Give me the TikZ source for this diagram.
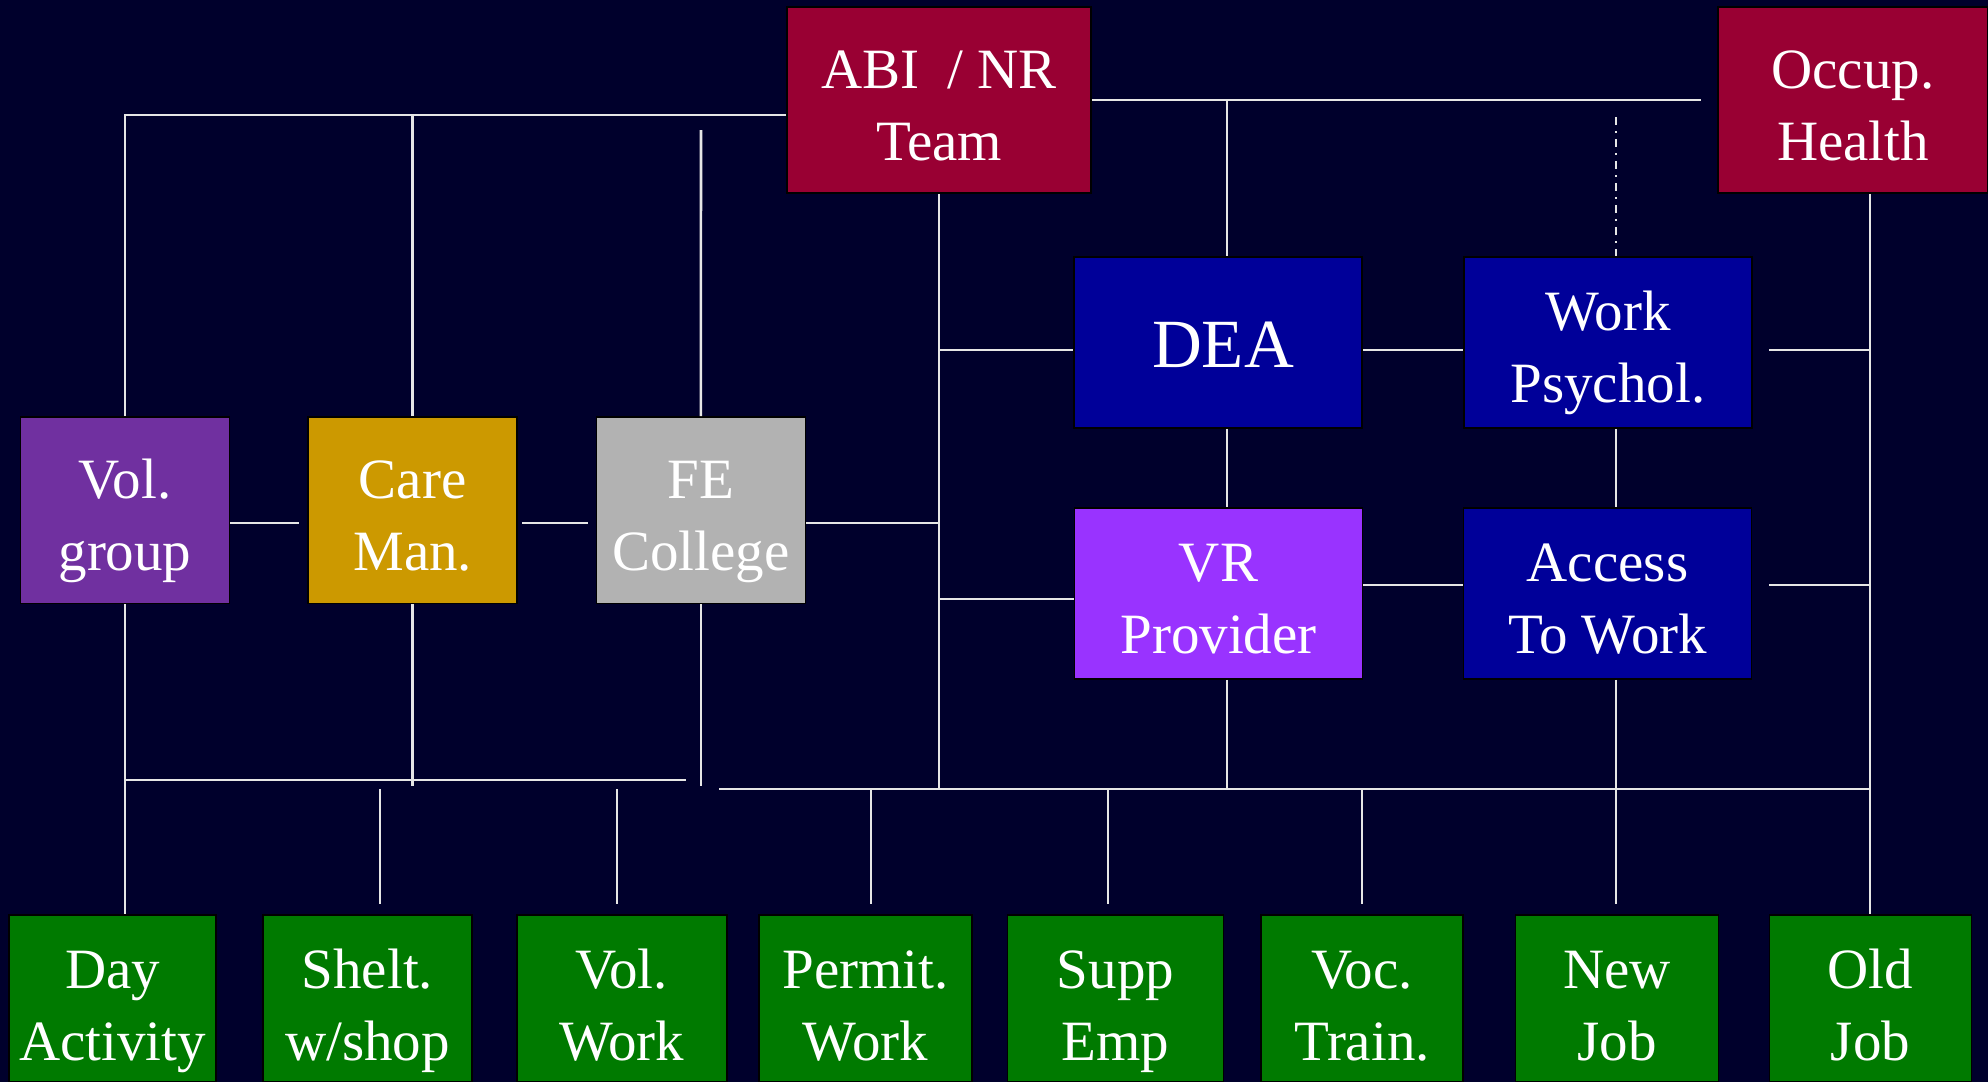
\documentclass[tikz,border=0pt]{standalone}
\usepackage{fontspec}
\setmainfont{Liberation Serif}
\usepackage{xcolor}
\usepackage{tikz}
\definecolor{NavyTop}{RGB}{0,0,44}
\definecolor{NavyMid}{RGB}{0,0,68}
\definecolor{TeamRed}{RGB}{153,0,51}
\definecolor{AgencyBlue}{RGB}{0,0,153}
\definecolor{VolPurple}{RGB}{112,48,160}
\definecolor{CareGold}{RGB}{204,153,0}
\definecolor{CollegeGrey}{RGB}{178,178,178}
\definecolor{VRViolet}{RGB}{153,51,255}
\definecolor{OutcomeGreen}{RGB}{0,122,0}
\definecolor{LinkWhite}{RGB}{230,230,230}

\begin{document}
\begin{tikzpicture}[x=0.5pt,y=-0.5pt,
  box/.style={draw=black,line width=0.8pt,inner sep=0pt,align=center,text=white,
    font=\fontsize{28.5}{36}\selectfont,text height=60pt,text depth=0pt},
  team/.style={box,fill=TeamRed,minimum height=93pt},
  agency/.style={box,minimum width=144pt,minimum height=85.5pt},
  helper/.style={box,minimum width=104.5pt,minimum height=93.3pt},
  outcome/.style={box,fill=OutcomeGreen,minimum height=83.5pt,text height=62pt},
  link/.style={LinkWhite,line width=1.3pt},
  dashdot/.style={dash pattern=on 4pt off 3pt on 1pt off 3pt}
]
\useasboundingbox (0,0) rectangle (1988,1082);
\shade[top color=NavyTop,middle color=NavyMid,bottom color=NavyTop] (0,0) rectangle (1988,1082);

% top row
\node[team,minimum width=152pt] (abi) at (939,100) {ABI \ / NR\\Team};
\node[team,minimum width=135pt] (occ) at (1853,100) {Occup.\\Health};

% employment agencies
\node[agency,fill=AgencyBlue,font=\fontsize{34.5}{41}\selectfont,text height=25pt,text depth=0pt] (dea) at (1218,342.5) {\hspace{5pt}DEA};
\node[agency,fill=AgencyBlue] (wp) at (1608,342.5) {Work\\Psychol.};
\node[agency,fill=VRViolet] (vr) at (1218.5,593.5) {VR\\Provider};
\node[agency,fill=AgencyBlue] (atw) at (1607.5,593.5) {Access\\To Work};

% community services
\node[helper,fill=VolPurple] (vol) at (125,510.3) {Vol.\\group};
\node[helper,fill=CareGold] (care) at (412.7,510.3) {Care\\Man.};
\node[helper,fill=CollegeGrey] (fe) at (700.8,510.3) {FE\\College};

% outcomes
\node[outcome,minimum width=103.5pt] (day) at (112.5,998.5) {Day\\Activity};
\node[outcome,minimum width=104.5pt] (shelt) at (367.4,998.5) {Shelt.\\w/shop};
\node[outcome,minimum width=105pt] (volw) at (621.8,998.5) {Vol.\\Work};
\node[outcome,minimum width=106.5pt] (perm) at (865.5,998.5) {Permit.\\Work};
\node[outcome,minimum width=108pt] (supp) at (1115.5,998.5) {Supp\\Emp};
\node[outcome,minimum width=101pt] (voc) at (1362,998.5) {Voc.\\Train.};
\node[outcome,minimum width=101.5pt] (newj) at (1617,998.5) {New\\Job};
\node[outcome,minimum width=101pt] (oldj) at (1870.5,998.5) {Old\\Job};

% line ends and columns
\coordinate (deaCol) at (1227,0);
\coordinate (wpCol) at (1616,0);
\coordinate (occCol) at (1870,0);
\coordinate (feTop) at (701,130);
\coordinate (abiEnd) at (1701,100);
\coordinate (wpTop) at (1616,117);
\coordinate (wpRight) at (1769,350);
\coordinate (atwRight) at (1769,585);
\coordinate (vrLeft) at (939,599);
\coordinate (leftBus) at (686,780);
\coordinate (rightBus) at (719,789);

% upper links
\draw[link] (vol.north) |- (abi.west |- 0,115);
\draw[link] (care.north) -- (care.north |- 0,115);
\draw[link] (fe.north) -- (feTop);
\draw[link] (abi.east) -- (abiEnd);
\draw[link] (abi.east -| deaCol) -- (dea.north -| deaCol);
\draw[link,dashdot] (wpTop) -- (wp.north -| wpTop);
\draw[link] (occ.south -| occCol) -- (oldj.north -| occCol);
\draw[link] (abi.south) -- (abi.south |- rightBus);

% agency links
\draw[link] (abi.south |- 0,350) -- (dea.west |- 0,350);
\draw[link] (dea.east |- 0,350) -- (wp.west |- 0,350);
\draw[link] (wpRight) -- (occCol |- wpRight);
\draw[link] (dea.south -| deaCol) -- (vr.north -| deaCol);
\draw[link] (wp.south -| wpCol) -- (atw.north -| wpCol);
\draw[link] (vrLeft) -- (vr.west |- vrLeft);
\draw[link] (vr.east |- 0,585) -- (atw.west |- 0,585);
\draw[link] (atwRight) -- (occCol |- atwRight);

% service links
\draw[link,shorten >=4pt] (vol.east |- 0,523) -- (care.west |- 0,523);
\draw[link,shorten <=2pt,shorten >=4pt] (care.east |- 0,523) -- (fe.west |- 0,523);
\draw[link] (fe.east |- 0,523) -- (abi.south |- 0,523);
\draw[link] (vol.south) -- (vol.south |- day.north);
\draw[link] (care.south) -- (care.south |- 0,786);
\draw[link] (fe.south) -- (fe.south |- 0,786);

% buses and drops
\draw[link] (vol.south |- leftBus) -- (leftBus);
\draw[link] (rightBus) -- (occCol |- rightBus);
\draw[link] (vr.south -| deaCol) -- (deaCol |- rightBus);
\draw[link,shorten >=5pt] (atw.south -| wpCol) -- (newj.north -| wpCol);
\foreach \n/\x in {shelt/380,volw/617,perm/871,supp/1108,voc/1362}
  \draw[link,shorten >=5pt] (rightBus -| \x,0) -- (\n.north -| \x,0);
\end{tikzpicture}
\end{document}
